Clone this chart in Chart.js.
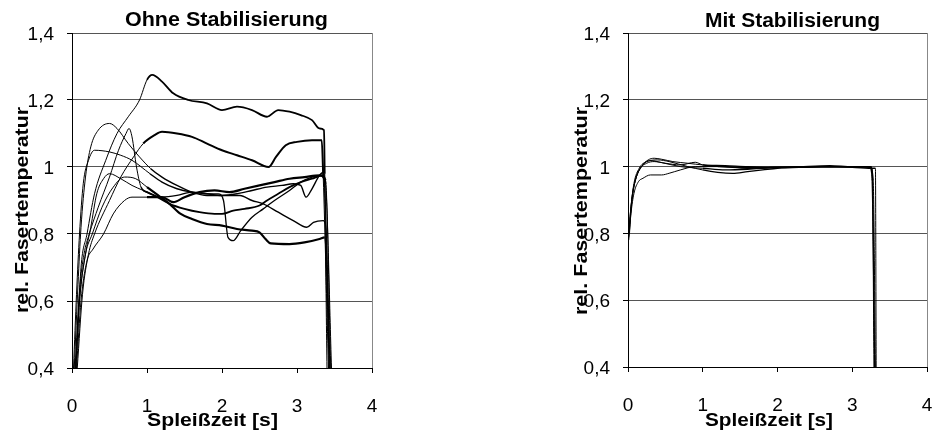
<!DOCTYPE html>
<html><head><meta charset="utf-8">
<script src="https://cdn.jsdelivr.net/npm/chart.js@4.4.1/dist/chart.umd.min.js"></script>
<style>
html,body{margin:0;padding:0;background:#fff;overflow:hidden;}
#wrap{position:relative;width:933px;height:433px;overflow:hidden;background:#fff;}
.box{position:absolute;top:0;height:433px;overflow:visible;}
#b1{left:0;width:466px;} #b2{left:466px;width:489px;}
canvas{display:block;}
</style></head><body>
<div id="wrap">
<div class="box" id="b1"><canvas id="c1" width="466" height="433"></canvas></div>
<div class="box" id="b2"><canvas id="c2" width="489" height="433"></canvas></div>
</div>
<script>
// ---- tick labels & texts ----
const xTickLabels = ['0', '1', '2', '3', '4'];
const yTickLabels = ['0,4', '0,6', '0,8', '1', '1,2', '1,4'];
const chartTitles = ['Ohne Stabilisierung', 'Mit Stabilisierung'];
const xAxisTitle = 'Spleißzeit [s]';
const yAxisTitle = 'rel. Fasertemperatur';

// ---- "Ohne Stabilisierung": [Spleißzeit s, rel. Fasertemperatur] ----
const ohneA = [[0.05,0.4],[0.12,0.7],[0.2,0.8],[0.3,0.92],[0.45,1.02],[0.6,1.1],[0.75,1.15],[0.9,1.2],[1.0,1.26],[1.07,1.275],[1.2,1.255],[1.35,1.22],[1.55,1.2],[1.8,1.19],[2.0,1.17],[2.2,1.18],[2.4,1.17],[2.6,1.15],[2.75,1.17],[2.9,1.165],[3.05,1.155],[3.2,1.14],[3.3,1.115],[3.36,1.11],[3.37,0.98],[3.44,0.4]];
const ohneB = [[0.07,0.4],[0.14,0.62],[0.22,0.74],[0.3,0.8],[0.5,0.9],[0.65,0.97],[0.82,1.03],[0.95,1.07],[1.1,1.095],[1.2,1.105],[1.4,1.1],[1.6,1.09],[1.8,1.07],[2.0,1.05],[2.2,1.035],[2.4,1.02],[2.62,1.0],[2.72,1.03],[2.85,1.065],[3.0,1.075],[3.2,1.08],[3.33,1.08],[3.35,0.97],[3.42,0.4]];
const ohneC = [[0.03,0.4],[0.08,0.65],[0.12,0.82],[0.18,0.97],[0.25,1.06],[0.35,1.11],[0.5,1.13],[0.6,1.115],[0.75,1.07],[0.9,1.03],[1.05,0.995],[1.2,0.97],[1.4,0.945],[1.6,0.925],[1.8,0.915],[2.0,0.915],[2.2,0.92],[2.4,0.93],[2.6,0.94],[2.8,0.945],[2.95,0.95],[3.05,0.945],[3.12,0.91],[3.2,0.935],[3.3,0.975],[3.36,0.985],[3.4,0.4]];
const ohneD = [[0.02,0.4],[0.06,0.62],[0.1,0.8],[0.15,0.95],[0.22,1.02],[0.3,1.05],[0.5,1.045],[0.65,1.035],[0.8,1.02],[1.04,0.98],[1.2,0.955],[1.4,0.935],[1.6,0.925],[1.8,0.92],[2.0,0.915],[2.24,0.915],[2.4,0.9],[2.55,0.89],[2.75,0.865],[2.95,0.84],[3.13,0.82],[3.22,0.835],[3.35,0.84],[3.38,0.83],[3.44,0.4]];
const ohneE = [[0.04,0.4],[0.1,0.63],[0.16,0.74],[0.23,0.8],[0.35,0.88],[0.5,0.97],[0.62,1.05],[0.72,1.1],[0.76,1.115],[0.8,1.09],[0.86,1.0],[0.92,0.94],[1.0,0.925],[1.2,0.91],[1.4,0.915],[1.6,0.925],[1.8,0.92],[1.95,0.92],[2.02,0.9],[2.08,0.79],[2.15,0.78],[2.25,0.81],[2.4,0.85],[2.55,0.875],[2.7,0.9],[2.9,0.93],[3.05,0.955],[3.2,0.97],[3.32,0.975],[3.36,0.96],[3.43,0.4]];
const ohneF = [[0.05,0.4],[0.1,0.6],[0.18,0.74],[0.25,0.82],[0.33,0.92],[0.42,0.965],[0.5,0.98],[0.65,0.965],[0.8,0.945],[0.95,0.93],[1.1,0.915],[1.3,0.89],[1.5,0.875],[1.7,0.865],[1.9,0.86],[2.0,0.86],[2.15,0.87],[2.3,0.875],[2.5,0.885],[2.6,0.9],[2.75,0.92],[2.9,0.94],[3.05,0.955],[3.2,0.965],[3.34,0.975],[3.38,0.95],[3.46,0.4]];
const ohneG = [[0.06,0.4],[0.12,0.6],[0.2,0.72],[0.28,0.755],[0.42,0.8],[0.55,0.86],[0.7,0.9],[0.8,0.91],[1.0,0.91],[1.2,0.91],[1.35,0.895],[1.5,0.91],[1.7,0.925],[1.9,0.93],[2.1,0.925],[2.3,0.935],[2.5,0.945],[2.7,0.955],[2.9,0.965],[3.1,0.97],[3.3,0.975],[3.38,0.96],[3.45,0.4]];
const ohneK = [[0.05,0.4],[0.1,0.6],[0.18,0.74],[0.27,0.8],[0.4,0.88],[0.55,0.94],[0.7,0.97],[0.85,0.965],[1.0,0.94],[1.15,0.915],[1.3,0.89],[1.45,0.86],[1.6,0.845],[1.8,0.83],[2.0,0.825],[2.2,0.815],[2.4,0.81],[2.5,0.805],[2.58,0.785],[2.65,0.772],[2.9,0.77],[3.1,0.775],[3.3,0.785],[3.37,0.79],[3.43,0.4]];

// ---- "Mit Stabilisierung" ----
const mit1 = [[0,0.76],[0.02,0.83],[0.05,0.9],[0.1,0.96],[0.18,1.0],[0.27,1.02],[0.35,1.025],[0.45,1.022],[0.6,1.015],[0.8,1.01],[1.0,1.005],[1.3,1.003],[1.6,1.0],[2.0,0.998],[2.5,1.0],[3.0,1.0],[3.24,1.0],[3.27,0.97],[3.3,0.4]];
const mit2 = [[0.01,0.8],[0.04,0.88],[0.08,0.95],[0.15,0.995],[0.25,1.015],[0.4,1.02],[0.55,1.015],[0.8,1.0],[1.0,0.99],[1.2,0.983],[1.4,0.98],[1.6,0.985],[1.8,0.99],[2.0,0.995],[2.4,0.998],[2.8,1.0],[3.24,0.998],[3.28,0.96],[3.31,0.4]];
const mit3 = [[0.01,0.78],[0.04,0.86],[0.08,0.92],[0.14,0.955],[0.2,0.965],[0.3,0.975],[0.45,0.975],[0.55,0.98],[0.7,0.99],[0.9,1.0],[1.2,1.0],[1.6,0.995],[2.0,0.997],[2.6,1.0],[3.0,0.998],[3.29,0.995],[3.31,0.995],[3.32,0.4]];
const mit4 = [[0.01,0.79],[0.04,0.87],[0.08,0.94],[0.15,0.99],[0.25,1.01],[0.35,1.015],[0.5,1.01],[0.7,1.005],[0.9,1.013],[1.0,1.005],[1.3,1.0],[1.7,0.997],[2.2,0.998],[2.7,1.003],[3.0,1.0],[3.25,1.0],[3.27,0.96],[3.29,0.4]];
const mit5 = [[0.02,0.8],[0.05,0.9],[0.1,0.96],[0.2,1.005],[0.3,1.018],[0.45,1.012],[0.7,1.0],[1.0,0.995],[1.3,0.99],[1.6,0.992],[2.0,0.998],[2.5,0.999],[3.0,1.0],[3.23,1.0],[3.26,0.98],[3.3,0.4]];

// ---- helpers ----
function series(arr, noisyWidth) {
  return {
    data: arr.map(p => ({ x: p[0], y: p[1] })),
    borderColor: '#000',
    borderWidth: 1,
    pointRadius: 0,
    cubicInterpolationMode: 'monotone',
    segment: {
      borderWidth: c => (c.p0.parsed.x > 0.9 && c.p0.parsed.y > 0.6 && c.p1.parsed.y > 0.6) ? noisyWidth : 1
    }
  };
}

function textPlugin(items) {
  return {
    id: 'texts',
    afterDraw(chart) {
      const ctx = chart.ctx;
      items.forEach(t => {
        ctx.save();
        ctx.font = t.font;
        ctx.fillStyle = '#000';
        ctx.textAlign = 'center';
        ctx.textBaseline = 'alphabetic';
        ctx.translate(t.x, t.y);
        if (t.rotate) ctx.rotate(t.rotate);
        const w = ctx.measureText(t.text).width;
        ctx.scale(t.width / w, 1);
        ctx.fillText(t.text, 0, 0);
        ctx.restore();
      });
    }
  };
}

const tickFont = { family: 'Liberation Sans', size: 19, lineHeight: 1.2 };

function makeChart(id, datasets, o) {
  return new Chart(document.getElementById(id), {
    type: 'line',
    data: { datasets },
    options: {
      responsive: false,
      animation: false,
      devicePixelRatio: 1,
      layout: { padding: { left: 0, top: o.top, right: o.right, bottom: 0 } },
      plugins: { legend: { display: false }, tooltip: { enabled: false }, title: { display: false } },
      scales: {
        x: {
          type: 'linear', min: 0, max: 4,
          afterFit: s => { s.height = o.xh; },
          ticks: { stepSize: 1, autoSkip: false, maxRotation: 0, color: '#000', font: tickFont, padding: 22,
                   callback: v => xTickLabels[Math.round(v)] },
          grid: { color: c => (c.tick && c.tick.value === 4) ? '#888' : 'rgba(0,0,0,0)', tickColor: '#000', tickLength: 5, lineWidth: 1 },
          border: { color: '#000', width: 1 }
        },
        y: {
          type: 'linear', min: 0.4, max: 1.4,
          afterFit: s => { s.width = o.yw; },
          ticks: { stepSize: 0.2, autoSkip: false, color: '#000', font: tickFont, padding: 13, labelOffset: 2,
                   callback: v => yTickLabels[Math.round((v - 0.4) / 0.2)] },
          grid: { color: '#555', tickColor: '#000', tickLength: 5, lineWidth: 1 },
          border: { color: '#000', width: 1 }
        }
      }
    },
    plugins: [textPlugin(o.texts)]
  });
}

makeChart('c1', [
  series(ohneA, 1.8), series(ohneB, 2), series(ohneC, 1.4), series(ohneD, 1.4),
  series(ohneE, 1.3), series(ohneF, 1.8), series(ohneG, 2.2), series(ohneK, 2.2)
], {
  top: 33, right: 94, xh: 65, yw: 72,
  texts: [
    { text: chartTitles[0], x: 226.5, y: 26, font: 'bold 20px "Liberation Sans"', width: 203 },
    { text: xAxisTitle, x: 212.5, y: 426, font: 'bold 18px "Liberation Sans"', width: 131 },
    { text: yAxisTitle, x: 28, y: 210, rotate: -Math.PI / 2, font: 'bold 19px "Liberation Sans"', width: 206 }
  ]
});

makeChart('c2', [
  series(mit1, 1.3), series(mit2, 1.3), series(mit3, 1.3), series(mit4, 1.3), series(mit5, 1.3)
], {
  top: 33, right: 28, xh: 66, yw: 162,
  texts: [
    { text: chartTitles[1], x: 326.5, y: 27, font: 'bold 20px "Liberation Sans"', width: 175 },
    { text: xAxisTitle, x: 303, y: 426, font: 'bold 18px "Liberation Sans"', width: 128 },
    { text: yAxisTitle, x: 121, y: 211, rotate: -Math.PI / 2, font: 'bold 19px "Liberation Sans"', width: 208 }
  ]
});
</script>
</body></html>
